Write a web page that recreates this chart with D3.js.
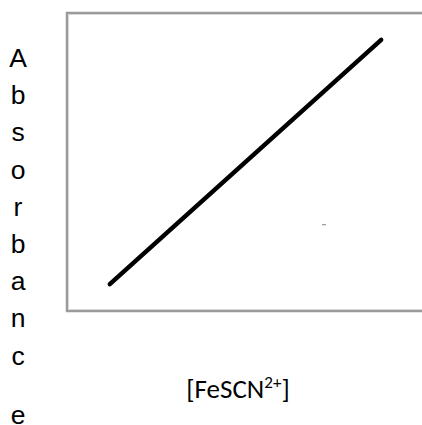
<!DOCTYPE html>
<html>
<head>
<meta charset="utf-8">
<script src="https://cdn.jsdelivr.net/npm/d3@7"></script>
<style>
  body { margin: 0; background: #fff; }
  svg { display: block; }
  .ylab { font-family: "Liberation Sans", Arial, sans-serif; font-size: 26.5px; fill: #000; }
  .xlab { font-family: Carlito, Lato, "Open Sans", sans-serif; font-size: 27px; fill: #000; }
</style>
</head>
<body>
<div id="chart"></div>
<script>
// data (arbitrary units)
var concentration = [12, 88];
var absorbance = [9, 91];
var stray = [{x: 72, y: 29}];   // the little grey speck inside the plot
var yTitle = "Absorbance";
var xTitle = "[FeSCN";
var xCharge = "2+";

var W = 422, H = 425;
var margin = {top: 13, right: -2, bottom: 114, left: 67};
var width = W - margin.left - margin.right;
var height = H - margin.top - margin.bottom;

var svg = d3.select("#chart").append("svg")
  .attr("width", W)
  .attr("height", H);

var x = d3.scaleLinear().domain([0, 100]).range([0, width]);
var y = d3.scaleLinear().domain([0, 100]).range([height, 0]);

var g = svg.append("g")
  .attr("transform", "translate(" + margin.left + "," + margin.top + ")");

// frame
g.append("rect")
  .attr("x", 0).attr("y", 0)
  .attr("width", width).attr("height", height)
  .attr("fill", "#fff")
  .attr("stroke", "#9a9a9a")
  .attr("stroke-width", 2.5);
g.append("rect")
  .attr("x", 1.5).attr("y", 1.5)
  .attr("width", width - 3).attr("height", height - 3)
  .attr("fill", "none")
  .attr("stroke", "#d8d8d8")
  .attr("stroke-width", 1);

var pts = concentration.map(function(d, i) { return {x: d, y: absorbance[i]}; });

var line = d3.line()
  .x(function(d) { return x(d.x); })
  .y(function(d) { return y(d.y); });

g.append("path")
  .datum(pts)
  .attr("d", line)
  .attr("fill", "none")
  .attr("stroke", "#000")
  .attr("stroke-width", 4.5)
  .attr("stroke-linecap", "round");

g.selectAll(".speck")
  .data(stray)
  .enter().append("rect")
  .attr("class", "speck")
  .attr("x", function(d) { return x(d.x) - 2; })
  .attr("y", function(d) { return y(d.y) - 0.5; })
  .attr("width", 4).attr("height", 1.2)
  .attr("fill", "#999");

// vertical stacked y title
var letters = yTitle.split("");
svg.selectAll(".ylab")
  .data(letters)
  .enter().append("text")
  .attr("class", "ylab")
  .attr("x", 18)
  .attr("y", function(d, i) { return 67 + i * 37.2 + (i == letters.length - 1 ? 22 : 0); })
  .attr("text-anchor", "middle")
  .text(function(d) { return d; });

// x title with superscript
var xt = svg.append("text")
  .attr("class", "xlab")
  .attr("x", 238)
  .attr("y", 398)
  .attr("text-anchor", "middle");
xt.append("tspan").text(xTitle);
xt.append("tspan").attr("dy", -10).style("font-size", "17px").text(xCharge);
xt.append("tspan").attr("dy", 10).text("]");
</script>
</body>
</html>
